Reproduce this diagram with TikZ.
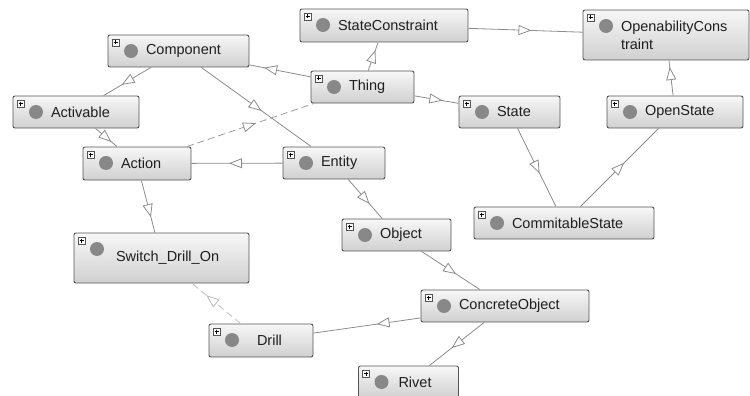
\documentclass[tikz,border=0pt]{standalone}
\usepackage{fontspec}
\setmainfont{Liberation Sans}
\usetikzlibrary{arrows.meta,decorations.markings}
\definecolor{boxline}{HTML}{545454}
\definecolor{edgegray}{HTML}{8C8C8C}
\definecolor{dotgray}{HTML}{888888}
\definecolor{boxtop}{HTML}{F7F7F7}
\definecolor{boxbottom}{HTML}{D0D0D0}
\newcommand{\ind}[1][38pt]{\hspace*{#1}}
\tikzstyle{cls} = [rectangle, rounded corners=2pt, draw=boxline, line width=0.9pt, top color=boxtop, bottom color=boxbottom, inner xsep=0pt, inner ysep=0pt, minimum height=32pt, align=left, text=black!88, font=\fontsize{14.5}{18}\selectfont,
  path picture={
    \coordinate (nw) at (path picture bounding box.north west);
    \filldraw[sharp corners, fill=white, draw=boxline, line width=0.5pt] ([shift={(4,4)}]nw) rectangle ++(7,7);
    \draw[sharp corners, black, line width=0.6pt] ([shift={(5.5,7.5)}]nw) -- ++(4,0) ([shift={(7.5,5.5)}]nw) -- ++(0,4);
    \fill[dotgray] ([shift={(23,16)}]nw) circle (7pt);
  }]
\tikzstyle{edge} = [draw=edgegray, line width=0.8pt]
\tikzstyle{link} = [draw=edgegray!85, line width=0.8pt, dash pattern=on 7pt off 4pt]
\tikzstyle{midtip} = [color=edgegray, line width=0.8pt, decoration={markings, mark=at position 0.5 with {\arrow[xshift=6.5pt]{Triangle[open, fill=white, length=13pt, width=10pt]}}}, postaction={decorate}]

\begin{document}
\begin{tikzpicture}[x=1pt, y=-1pt]
\clip (0,0) rectangle (750,396);

\node [cls, text width=168pt, minimum height=33pt] (StateConstraint) at (384,25.5) {\ind StateConstraint};
\node [cls, text width=166pt, minimum height=50pt] (Openability) at (666,35) {\ind OpenabilityCons\\\ind traint};
\node [cls, text width=141pt] (Component) at (178.5,51) {\ind Component};
\node [cls, text width=103pt] (Thing) at (362.5,87) {\ind Thing};
\node [cls, text width=126pt] (Activable) at (76,112) {\ind Activable};
\node [cls, text width=101pt] (State) at (509.5,112) {\ind State};
\node [cls, text width=136pt] (OpenState) at (675,112) {\ind OpenState};
\node [cls, text width=108pt, minimum height=33pt] (Action) at (137,163.5) {\ind Action};
\node [cls, text width=102pt] (Entity) at (334,163) {\ind Entity};
\node [cls, text width=180pt] (CommitableState) at (564,223) {\ind CommitableState};
\node [cls, text width=109pt] (Object) at (396.5,235) {\ind Object};
\node [cls, text width=175pt, minimum height=50pt] (SwitchDrillOn) at (161.5,258) {\ind[42pt]Switch\_Drill\_On};
\node [cls, text width=168pt] (ConcreteObject) at (505,306) {\ind ConcreteObject};
\node [cls, text width=104pt, minimum height=33pt] (Drill) at (261,340.5) {\ind[48pt]Drill};
\node [cls, text width=100pt] (Rivet) at (408.5,382) {\ind[40pt]Rivet};

\foreach \s/\t in {StateConstraint/Openability, Thing/StateConstraint, Thing/Component, Thing/State,
  Component/Activable, Activable/Action, Component/Entity, Entity/Action, Action/SwitchDrillOn,
  Entity/Object, Object/ConcreteObject, ConcreteObject/Drill, ConcreteObject/Rivet,
  State/CommitableState, CommitableState/OpenState, OpenState/Openability}
  {\draw [edge] (\s) -- (\t);
   \path [midtip] (\s.center) -- (\t.center);}

\draw [link] (Action) -- (Thing);
\path [midtip] (Action.center) -- (Thing.center);
\draw [link, draw=edgegray!55] (Drill) -- (SwitchDrillOn);
\path [midtip, color=edgegray!60] (Drill.center) -- (SwitchDrillOn.center);

\end{tikzpicture}
\end{document}
